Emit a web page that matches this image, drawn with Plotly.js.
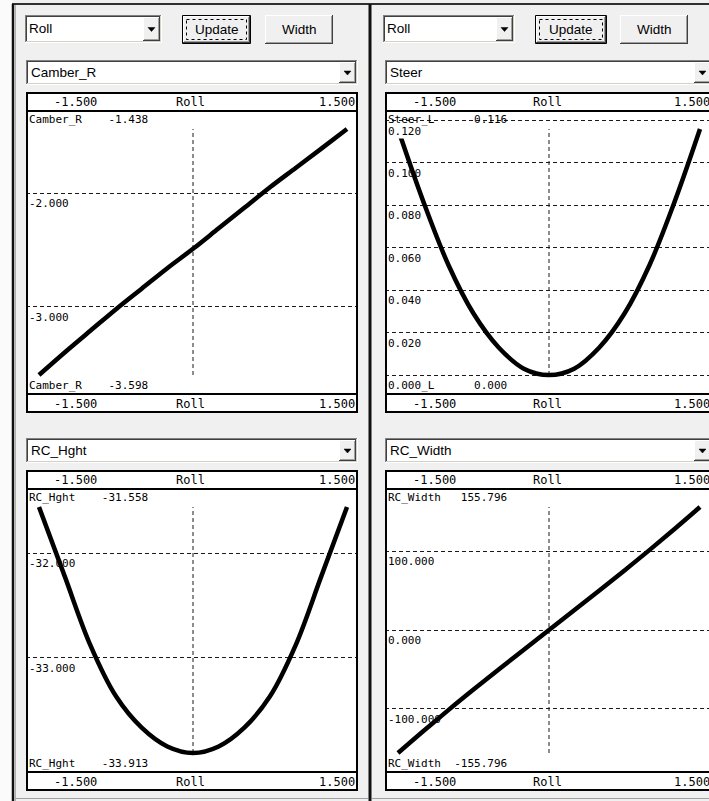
<!DOCTYPE html>
<html>
<head>
<meta charset="utf-8">
<script src="https://cdn.plot.ly/plotly-3.0.1.min.js"></script>
<style>
html, body { margin: 0; padding: 0; overflow: hidden; background: #f0f0f0; }
#chart { width: 709px; height: 801px; }
</style>
</head>
<body>
<div id="chart"></div>
<script>
// ---- Roll sweep and suspension responses ----
const rollName = 'Roll';
const roll    = [-1.5, -1.25, -1.0, -0.75, -0.5, -0.25, 0, 0.25, 0.5, 0.75, 1.0, 1.25, 1.5];
const camberR = [-3.598, -3.400, -3.210, -3.020, -2.840, -2.660, -2.490, -2.310, -2.130, -1.950, -1.780, -1.610, -1.438];
const steerL  = [0.116, 0.082, 0.052, 0.029, 0.013, 0.003, 0.000, 0.003, 0.013, 0.029, 0.052, 0.082, 0.116];
const rcHght  = [-31.558, -32.220, -32.880, -33.370, -33.670, -33.850, -33.913, -33.850, -33.670, -33.370, -32.880, -32.220, -31.558];
const rcWidth = [-155.796, -128.3, -101.5, -75.5, -50.0, -24.9, 0, 24.9, 50.0, 75.5, 101.5, 128.3, 155.796];

// grid values of each channel
const camberTicks  = [-3, -2];
const steerTicks   = [0, 0.02, 0.04, 0.06, 0.08, 0.10, 0.12];
const rcHghtTicks  = [-33, -32];
const rcWidthTicks = [-100, 0, 100];

// selector captions
const xSelector   = 'Roll';
const buttonNames = ['Update', 'Width'];
const comboNames  = ['Camber_R', 'Steer', 'RC_Hght', 'RC_Width'];
const traceNames  = ['Camber_R', 'Steer_L', 'RC_Hght', 'RC_Width'];
const rollCentre  = 0;

// ---- page geometry (pixels) ----
const W = 709, H = 801;
const X = p => p / W;
const Y = p => 1 - p / H;

const cols = [
  { boxL: 26,  boxR: 358, dataL: 39,  dataR: 347, dd: [25, 162],  up: [182, 251], wd: [265, 333] },
  { boxL: 385, boxR: 713, dataL: 398, dataR: 700, dd: [383, 515], up: [535, 607], wd: [620, 688] }
];
const rows = [
  { combo: [60, 85],   strip1: [92, 111],  plot: [111, 394], strip2: [394, 413] },
  { combo: [438, 463], strip1: [470, 489], plot: [489, 772], strip2: [772, 791] }
];
const charts = [
  { series: camberR, ticks: camberTicks,  col: 0, row: 0 },
  { series: steerL,  ticks: steerTicks,   col: 1, row: 0 },
  { series: rcHght,  ticks: rcHghtTicks,  col: 0, row: 1 },
  { series: rcWidth, ticks: rcWidthTicks, col: 1, row: 1 }
];

const uiFont    = { family: 'Liberation Sans, Arial, sans-serif', size: 13.5, color: '#000' };
const stripFont = { family: 'DejaVu Sans Mono, monospace', size: 12, color: '#000' };
const plotFont  = { family: 'DejaVu Sans Mono, monospace', size: 11, color: '#000' };
const gridInk   = '#1a1a1a';
const NB = '\u00A0';

const shapes = [];
const annotations = [];
const traces = [];

function seg(x0, y0, x1, y1, color, width, layer) {
  shapes.push({ type: 'line', xref: 'paper', yref: 'paper',
    x0: X(x0), y0: Y(y0), x1: X(x1), y1: Y(y1),
    line: { color: color, width: width }, layer: layer || 'above' });
}
function fillRect(x0, y0, x1, y1, fill, layer) {
  shapes.push({ type: 'rect', xref: 'paper', yref: 'paper',
    x0: X(x0), y0: Y(y0), x1: X(x1), y1: Y(y1),
    fillcolor: fill, line: { width: 0 }, layer: layer || 'below' });
}
function outline(x0, y0, x1, y1, color, width, dash) {
  shapes.push({ type: 'rect', xref: 'paper', yref: 'paper',
    x0: X(x0), y0: Y(y0), x1: X(x1), y1: Y(y1),
    fillcolor: 'rgba(0,0,0,0)', line: { color: color, width: width, dash: dash || 'solid' }, layer: 'above' });
}
function sunken(x0, y0, x1, y1) {
  fillRect(x0, y0, x1, y1, '#ffffff', 'above');
  seg(x0, y0 + 0.5, x1, y0 + 0.5, '#808080', 1);
  seg(x0 + 0.5, y0, x0 + 0.5, y1, '#808080', 1);
  seg(x0 + 1, y0 + 1.5, x1 - 1, y0 + 1.5, '#404040', 1);
  seg(x0 + 1.5, y0 + 1, x0 + 1.5, y1 - 1, '#404040', 1);
  seg(x0, y1 - 0.5, x1, y1 - 0.5, '#ffffff', 1);
  seg(x1 - 0.5, y0, x1 - 0.5, y1, '#ffffff', 1);
  seg(x0 + 1, y1 - 1.5, x1 - 1, y1 - 1.5, '#d4d0c8', 1);
  seg(x1 - 1.5, y0 + 1, x1 - 1.5, y1 - 1, '#d4d0c8', 1);
}
function raised(x0, y0, x1, y1) {
  fillRect(x0, y0, x1, y1, '#f0f0f0', 'above');
  seg(x0, y0 + 0.5, x1, y0 + 0.5, '#ffffff', 1);
  seg(x0 + 0.5, y0, x0 + 0.5, y1, '#ffffff', 1);
  seg(x0, y1 - 0.5, x1, y1 - 0.5, '#404040', 1);
  seg(x1 - 0.5, y0, x1 - 0.5, y1, '#404040', 1);
  seg(x0 + 1, y1 - 1.5, x1 - 1, y1 - 1.5, '#a0a0a0', 1);
  seg(x1 - 1.5, y0 + 1, x1 - 1.5, y1 - 1, '#a0a0a0', 1);
}
function arrow(cx, cy) {
  const p = (x, y) => X(x) + ',' + Y(y);
  shapes.push({ type: 'path', xref: 'paper', yref: 'paper',
    path: 'M' + p(cx - 3.5, cy - 2) + ' L' + p(cx + 3.5, cy - 2) + ' L' + p(cx, cy + 2) + ' Z',
    fillcolor: '#000', line: { color: '#000', width: 0.5 }, layer: 'above' });
}
function label(text, x, y, xanchor, font, extra) {
  annotations.push(Object.assign({ text: text, xref: 'paper', yref: 'paper', x: X(x), y: Y(y),
    xanchor: xanchor, yanchor: 'middle', showarrow: false, font: font, borderpad: 0 }, extra || {}));
}
function dropField(x0, y0, x1, y1) {
  sunken(x0, y0, x1, y1);
  raised(x1 - 19, y0 + 2, x1 - 2, y1 - 2);
  arrow(x1 - 10.5, (y0 + y1) / 2 + 0.5);
}

// ---- window frame ----
fillRect(0, 0, 12, H, '#fbfbfb', 'below');
seg(12, 4, W, 4, '#303030', 2);
seg(13, 4, 13, H, '#101010', 2.5);
seg(15.5, 5, 15.5, H, '#b0b0b0', 1);
seg(370, 4, 370, H, '#101010', 3);
seg(15, 798.5, 368, 798.5, '#a0a0a0', 1);
seg(372, 798.5, W, 798.5, '#a0a0a0', 1);

// ---- selector rows ----
cols.forEach(c => {
  dropField(c.dd[0], 15, c.dd[1], 43);
  label(xSelector, c.dd[0] + 3, 29, 'left', uiFont);
  // default button with focus frame
  outline(c.up[0] + 0.5, 15.5, c.up[1] - 0.5, 43.5, '#000', 1);
  raised(c.up[0] + 1, 16, c.up[1] - 1, 43);
  outline(c.up[0] + 4.5, 19.5, c.up[1] - 4.5, 39.5, '#000', 1, 'dot');
  label(buttonNames[0], (c.up[0] + c.up[1]) / 2, 30, 'center', uiFont);
  raised(c.wd[0], 15, c.wd[1], 44);
  label(buttonNames[1], (c.wd[0] + c.wd[1]) / 2, 30, 'center', uiFont);
});

const layout = {
  width: W, height: H,
  margin: { l: 0, r: 0, t: 0, b: 0, pad: 0 },
  paper_bgcolor: '#f0f0f0',
  plot_bgcolor: '#ffffff',
  showlegend: false,
  shapes: shapes,
  annotations: annotations
};

const rollLo = roll[0], rollHi = roll[roll.length - 1];
const fmt = v => v.toFixed(3);
const pad = (s, n, left) => (left ? s.padStart(n) : s.padEnd(n)).replace(/ /g, NB);

charts.forEach((c, i) => {
  const k = i === 0 ? '' : String(i + 1);
  const col = cols[c.col], row = rows[c.row];
  const name = traceNames[i];

  // x scale: Roll limits sit slightly inside the frame
  const sx = (col.dataR - col.dataL) / (rollHi - rollLo);
  const domR = Math.min(col.boxR, W);
  layout['xaxis' + k] = {
    domain: [X(col.boxL), X(domR)],
    range: [rollLo - (col.dataL - col.boxL) / sx, rollHi + (domR - col.dataR) / sx],
    showgrid: false, zeroline: false, showticklabels: false, ticks: '', showline: false,
    fixedrange: true, anchor: 'y' + k
  };

  // y scale: data extremes leave a small margin to the frame
  const vmin = Math.min(...c.series), vmax = Math.max(...c.series);
  const pTop = row.plot[0] + 18, pBot = row.plot[1] - 19;
  const sy = (pBot - pTop) / (vmax - vmin);
  layout['yaxis' + k] = {
    domain: [Y(row.plot[1]), Y(row.plot[0])],
    range: [vmin - 19 / sy, vmax + 18 / sy],
    tickvals: c.ticks, showticklabels: false, ticks: '',
    showgrid: true, gridcolor: gridInk, gridwidth: 1, griddash: '4px,3px',
    zeroline: false, showline: false, fixedrange: true, anchor: 'x' + k
  };

  // centre marker at zero roll, spanning the channel extremes
  traces.push({ x: [rollCentre, rollCentre], y: [vmin, vmax], xaxis: 'x' + k, yaxis: 'y' + k,
    mode: 'lines', line: { color: gridInk, width: 1, dash: '4px,3px' }, hoverinfo: 'skip' });
  traces.push({ x: roll, y: c.series, xaxis: 'x' + k, yaxis: 'y' + k, name: name,
    mode: 'lines', line: { color: '#000', width: 4.5, shape: 'spline', smoothing: 1 } });

  // channel selector
  dropField(col.boxL, row.combo[0], col.boxR, row.combo[1]);
  label(comboNames[i], col.boxL + 4, (row.combo[0] + row.combo[1]) / 2, 'left', uiFont);

  // white strips above and below the plot frame
  fillRect(col.boxL, row.strip1[0], col.boxR, row.strip1[1], '#ffffff', 'below');
  fillRect(col.boxL, row.strip2[0], col.boxR, row.strip2[1], '#ffffff', 'below');
  outline(col.boxL + 1, row.strip1[0] + 1, col.boxR - 1, row.strip2[1] - 1, '#000', 2);
  seg(col.boxL, row.plot[0], col.boxR, row.plot[0], '#000', 2);
  seg(col.boxL, row.plot[1], col.boxR, row.plot[1], '#000', 2);

  [row.strip1, row.strip2].forEach(s => {
    const cy = (s[0] + s[1]) / 2 + 0.5;
    label(fmt(rollLo), col.boxL + 49, cy, 'center', stripFont);
    label(rollName, (col.boxL + col.boxR) / 2 - 2, cy, 'center', stripFont);
    label(fmt(rollHi), col.boxR - 2, cy, 'right', stripFont);
  });

  // channel extremes, top and bottom
  annotations.push({ text: pad(name, 10) + pad(fmt(vmax), 8, true), xref: 'paper', yref: 'paper',
    x: X(col.boxL + 2), y: Y(row.plot[0] + 1), xanchor: 'left', yanchor: 'top',
    showarrow: false, font: plotFont, borderpad: 0 });
  annotations.push({ text: pad(name, 10) + pad(fmt(vmin), 8, true), xref: 'paper', yref: 'paper',
    x: X(col.boxL + 2), y: Y(row.plot[1] - 1), xanchor: 'left', yanchor: 'bottom',
    showarrow: false, font: plotFont, borderpad: 0 });

  // grid values, printed just under each grid line
  c.ticks.forEach(t => {
    const span = vmax - vmin;
    const opaque = Math.abs(t - vmax) < 0.1 * span || Math.abs(t - vmin) < 0.05 * span;
    annotations.push({ text: fmt(t), xref: 'paper', yref: 'y' + k, x: X(col.boxL + 2), y: t,
      xanchor: 'left', yanchor: 'top', yshift: -3, showarrow: false, font: plotFont,
      borderpad: 0, bgcolor: opaque ? '#ffffff' : 'rgba(0,0,0,0)' });
  });
});

Plotly.newPlot('chart', traces, layout, { staticPlot: true, displayModeBar: false });
</script>
</body>
</html>
